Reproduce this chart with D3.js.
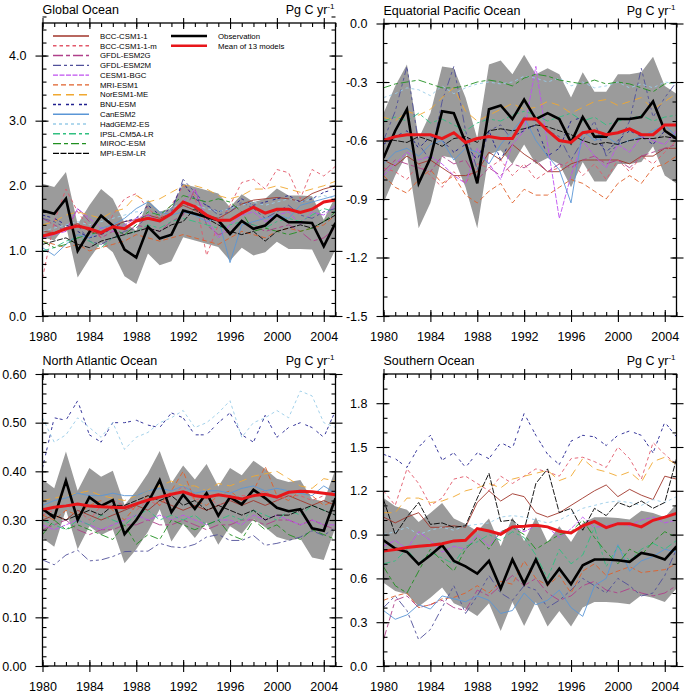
<!DOCTYPE html>
<html><head><meta charset="utf-8">
<script src="https://cdn.jsdelivr.net/npm/d3@7"></script>
<style>body{margin:0;background:#fff}svg{display:block}text{font-family:"Liberation Sans",Arial,Helvetica,sans-serif}</style>
</head><body><svg id="c" width="685" height="693"></svg>
<script>
const years=[1980,1981,1982,1983,1984,1985,1986,1987,1988,1989,1990,1991,1992,1993,1994,1995,1996,1997,1998,1999,2000,2001,2002,2003,2004,2005];
const xTickYears=[1980,1984,1988,1992,1996,2000,2004];
const modelNames=["BCC-CSM1-1","BCC-CSM1-1-m","GFDL-ESM2G","GFDL-ESM2M","CESM1-BGC","MRI-ESM1","NorESM1-ME","BNU-ESM","CanESM2","HadGEM2-ES","IPSL-CM5A-LR","MIROC-ESM","MPI-ESM-LR"];
const modelColors=["#a0352a","#e2586a","#b0408a","#50509a","#c050f0","#e0602a","#f0a830","#202090","#5a96d6","#98cce8","#30c080","#209020","#000000"];
const modelDashes=["none","3.5,3","10,3,4,3","8,3,3,3,3,3","5,1.5","5,3","8,5","3,2,3,5","none","3,3","7,3,3,3","8,3,4,3","6,1.5"];

// ---------- Global Ocean ----------
const globalTicks=[0,1,2,3,4];
const globalObs=[1.62,1.57,1.80,1.00,1.29,1.54,1.39,1.02,0.90,1.37,1.19,1.25,1.62,1.57,1.52,1.47,1.26,1.46,1.34,1.39,1.55,1.44,1.44,1.43,1.07,1.43];
const globalMean=[1.23,1.27,1.34,1.38,1.34,1.28,1.37,1.34,1.46,1.50,1.46,1.57,1.75,1.68,1.55,1.47,1.47,1.58,1.67,1.58,1.64,1.64,1.59,1.64,1.75,1.78];
const globalUpper=[2.03,1.98,2.21,1.41,1.70,1.95,1.80,1.43,1.31,1.78,1.60,1.66,2.03,1.98,1.93,1.88,1.67,1.87,1.75,1.80,1.96,1.85,1.85,1.84,1.48,1.84];
const globalLower=[1.21,1.16,1.39,0.59,0.88,1.13,0.98,0.61,0.49,0.96,0.78,0.84,1.21,1.16,1.11,1.06,0.85,1.05,0.93,0.98,1.14,1.03,1.03,1.02,0.66,1.02];
const globalModels=[
[1.30,1.28,1.35,1.42,1.30,1.25,1.38,1.45,1.48,1.55,1.50,1.58,1.70,1.62,1.55,1.50,1.60,1.72,1.78,1.80,1.82,1.80,1.76,1.88,1.95,2.00],
[0.58,1.45,1.95,1.60,1.35,1.20,1.55,1.80,1.88,1.65,1.50,1.70,2.00,1.85,0.93,1.40,1.70,2.05,2.10,1.95,2.25,2.20,1.80,2.25,2.15,2.30],
[1.50,1.40,1.30,1.65,1.45,1.20,1.30,1.25,1.40,1.35,1.30,1.45,1.55,1.95,1.40,1.25,1.30,1.45,1.40,1.30,1.35,1.40,1.30,1.15,1.20,1.35],
[1.50,1.45,1.35,1.40,1.15,1.10,1.20,1.30,1.35,1.55,1.45,1.60,2.10,1.90,1.70,1.55,1.60,1.75,1.65,1.50,1.60,1.70,1.55,1.50,1.60,1.65],
[1.20,1.25,1.30,1.65,1.50,1.35,1.30,1.40,1.50,1.55,1.45,1.60,1.75,1.95,1.50,1.20,1.40,1.55,1.60,1.45,1.55,1.60,1.40,1.60,1.55,1.70],
[1.15,1.10,1.05,1.10,1.00,1.05,1.10,1.15,1.25,1.20,1.15,1.20,1.25,1.20,1.15,1.10,1.20,1.30,1.25,1.20,1.30,1.35,1.30,1.35,1.40,1.55],
[1.40,1.45,1.55,1.60,1.55,1.50,1.60,1.65,1.85,1.75,1.80,1.90,2.00,2.00,1.95,1.85,1.80,1.85,1.95,1.95,2.00,1.95,1.90,1.95,2.00,2.07],
[1.55,1.50,1.40,1.30,1.20,1.25,1.35,1.45,1.50,1.70,1.55,1.65,2.05,1.80,1.70,1.60,1.65,1.80,1.70,1.75,1.80,1.85,1.75,1.80,1.90,1.95],
[1.05,0.93,1.10,1.25,1.20,1.35,1.40,1.50,1.65,1.75,1.60,1.55,1.60,1.55,1.45,1.50,0.82,1.40,1.45,1.50,1.55,1.50,1.70,1.75,1.80,1.85],
[1.30,1.35,1.40,1.45,1.40,1.45,1.50,1.55,1.60,1.60,1.55,1.65,1.75,1.70,1.65,1.60,1.65,1.70,1.75,1.70,1.75,1.80,1.75,1.80,1.85,1.80],
[1.00,1.05,1.15,1.20,1.15,1.05,1.20,1.25,1.30,1.40,1.35,1.45,1.50,1.45,1.40,1.35,1.40,1.45,1.40,1.35,1.45,1.50,1.45,1.55,1.65,1.60],
[1.15,1.05,1.10,1.20,1.25,1.30,1.35,1.25,1.40,1.60,1.55,1.70,1.85,1.80,1.75,1.80,1.75,1.60,1.30,1.35,1.30,1.25,1.30,1.35,1.45,1.60],
[1.10,1.15,1.20,1.10,1.05,1.15,1.20,1.25,1.30,1.35,1.30,1.40,1.45,1.65,1.50,1.40,1.30,1.25,1.30,1.15,1.30,1.35,1.40,1.35,1.45,1.55]];

// ---------- Equatorial Pacific ----------
const eqTicks=[-1.5,-1.2,-0.9,-0.6,-0.3,0];
const eqObs=[-0.69,-0.55,-0.44,-0.82,-0.69,-0.45,-0.46,-0.61,-0.82,-0.44,-0.42,-0.49,-0.39,-0.49,-0.46,-0.49,-0.61,-0.48,-0.58,-0.58,-0.49,-0.49,-0.48,-0.40,-0.55,-0.59];
const eqMean=[-0.60,-0.58,-0.57,-0.57,-0.57,-0.59,-0.56,-0.61,-0.59,-0.58,-0.59,-0.59,-0.49,-0.49,-0.55,-0.60,-0.61,-0.56,-0.55,-0.57,-0.56,-0.54,-0.57,-0.57,-0.52,-0.52];
const eqUpper=[-0.46,-0.32,-0.21,-0.59,-0.46,-0.22,-0.23,-0.38,-0.59,-0.21,-0.19,-0.26,-0.16,-0.26,-0.23,-0.26,-0.38,-0.25,-0.35,-0.35,-0.26,-0.26,-0.25,-0.17,-0.32,-0.36];
const eqLower=[-0.92,-0.78,-0.67,-1.05,-0.92,-0.68,-0.69,-0.84,-1.05,-0.67,-0.65,-0.72,-0.62,-0.72,-0.69,-0.72,-0.84,-0.71,-0.81,-0.81,-0.72,-0.72,-0.71,-0.63,-0.78,-0.82];
const eqModels=[
[-0.70,-0.73,-0.68,-0.72,-0.70,-0.74,-0.78,-0.78,-0.76,-0.66,-0.70,-0.62,-0.67,-0.71,-0.76,-0.76,-0.72,-0.70,-0.70,-0.70,-0.70,-0.72,-0.68,-0.68,-0.64,-0.64],
[-0.74,-0.76,-0.80,-0.72,-0.78,-0.84,-0.76,-0.82,-0.72,-0.74,-0.70,-0.78,-0.72,-0.80,-0.76,-0.74,-0.70,-0.78,-0.72,-0.80,-0.70,-0.76,-0.68,-0.72,-0.66,-0.60],
[-0.76,-0.70,-0.72,-0.74,-0.76,-0.68,-0.72,-0.70,-0.80,-0.74,-0.78,-0.72,-0.74,-0.70,-0.76,-0.72,-0.74,-0.70,-0.68,-0.72,-0.70,-0.74,-0.68,-0.66,-0.64,-0.62],
[-0.60,-0.45,-0.22,-0.62,-0.70,-0.40,-0.22,-0.55,-0.75,-0.55,-0.52,-0.60,-0.48,-0.50,-0.55,-0.58,-0.70,-0.60,-0.50,-0.68,-0.62,-0.50,-0.23,-0.48,-0.38,-0.30],
[-0.78,-0.72,-0.66,-0.70,-0.68,-0.72,-0.78,-0.82,-0.64,-0.72,-0.80,-0.62,-0.55,-0.22,-0.62,-1.00,-0.78,-0.60,-0.68,-0.74,-0.62,-0.66,-0.58,-0.60,-0.62,-0.55],
[-0.78,-0.84,-0.87,-0.80,-0.75,-0.82,-0.78,-0.88,-0.92,-0.86,-0.82,-0.92,-0.85,-0.88,-0.88,-0.84,-0.80,-0.82,-0.86,-0.90,-0.82,-0.78,-0.82,-0.74,-0.72,-0.68],
[-0.48,-0.50,-0.45,-0.47,-0.44,-0.38,-0.33,-0.45,-0.50,-0.47,-0.44,-0.41,-0.44,-0.43,-0.40,-0.42,-0.46,-0.43,-0.40,-0.39,-0.42,-0.40,-0.38,-0.44,-0.40,-0.36],
[-0.62,-0.58,-0.55,-0.64,-0.58,-0.60,-0.66,-0.62,-0.70,-0.55,-0.70,-0.58,-0.55,-0.52,-0.68,-0.64,-0.50,-0.48,-0.58,-0.66,-0.60,-0.55,-0.58,-0.62,-0.55,-0.60],
[-0.72,-0.66,-0.64,-0.68,-0.62,-0.60,-0.70,-0.64,-0.66,-0.72,-0.62,-0.55,-0.48,-0.60,-0.68,-0.75,-0.92,-0.55,-0.60,-0.58,-0.62,-0.60,-0.58,-0.55,-0.52,-0.58],
[-0.38,-0.36,-0.33,-0.34,-0.37,-0.32,-0.36,-0.33,-0.31,-0.30,-0.31,-0.30,-0.27,-0.28,-0.30,-0.28,-0.32,-0.30,-0.33,-0.32,-0.30,-0.33,-0.31,-0.33,-0.30,-0.31],
[-0.50,-0.48,-0.50,-0.46,-0.51,-0.49,-0.52,-0.55,-0.51,-0.49,-0.50,-0.47,-0.45,-0.47,-0.50,-0.48,-0.46,-0.50,-0.48,-0.52,-0.50,-0.49,-0.47,-0.50,-0.48,-0.47],
[-0.33,-0.31,-0.30,-0.29,-0.31,-0.33,-0.33,-0.32,-0.30,-0.29,-0.30,-0.32,-0.28,-0.26,-0.27,-0.29,-0.30,-0.31,-0.29,-0.31,-0.30,-0.31,-0.33,-0.35,-0.31,-0.30],
[-0.59,-0.60,-0.61,-0.58,-0.60,-0.63,-0.59,-0.58,-0.61,-0.55,-0.54,-0.55,-0.54,-0.52,-0.53,-0.55,-0.57,-0.60,-0.62,-0.61,-0.62,-0.60,-0.59,-0.59,-0.58,-0.59]];

// ---------- North Atlantic ----------
const naTicks=[0,0.1,0.2,0.3,0.4,0.5,0.6];
const naObs=[0.323,0.305,0.381,0.300,0.347,0.329,0.341,0.271,0.300,0.336,0.382,0.316,0.352,0.323,0.355,0.309,0.347,0.332,0.362,0.345,0.325,0.318,0.322,0.283,0.278,0.345];
const naMean=[0.321,0.326,0.329,0.333,0.329,0.327,0.326,0.325,0.333,0.341,0.347,0.353,0.358,0.350,0.347,0.352,0.348,0.343,0.350,0.353,0.347,0.357,0.359,0.358,0.355,0.352];
const naUpper=[0.383,0.365,0.441,0.360,0.407,0.389,0.401,0.331,0.360,0.396,0.442,0.376,0.412,0.383,0.415,0.369,0.407,0.392,0.422,0.405,0.385,0.378,0.382,0.343,0.338,0.405];
const naLower=[0.263,0.245,0.321,0.240,0.287,0.269,0.281,0.211,0.240,0.276,0.322,0.256,0.292,0.263,0.295,0.249,0.287,0.272,0.302,0.285,0.265,0.258,0.262,0.223,0.218,0.285];
const naModels=[
[0.30,0.31,0.30,0.32,0.31,0.30,0.31,0.32,0.33,0.32,0.34,0.33,0.32,0.33,0.32,0.33,0.34,0.33,0.34,0.33,0.34,0.35,0.34,0.33,0.34,0.33],
[0.31,0.32,0.33,0.32,0.30,0.33,0.34,0.33,0.32,0.34,0.33,0.35,0.37,0.34,0.35,0.33,0.34,0.35,0.35,0.36,0.34,0.35,0.35,0.34,0.35,0.36],
[0.28,0.29,0.30,0.28,0.27,0.28,0.28,0.29,0.29,0.30,0.29,0.29,0.30,0.29,0.28,0.29,0.29,0.30,0.30,0.29,0.30,0.30,0.29,0.30,0.29,0.28],
[0.218,0.208,0.228,0.238,0.216,0.218,0.225,0.235,0.236,0.236,0.252,0.245,0.243,0.250,0.265,0.270,0.258,0.258,0.268,0.248,0.252,0.258,0.265,0.278,0.268,0.285],
[0.29,0.28,0.29,0.30,0.29,0.28,0.29,0.30,0.31,0.30,0.31,0.30,0.31,0.30,0.29,0.30,0.30,0.29,0.31,0.30,0.31,0.30,0.29,0.30,0.29,0.29],
[0.31,0.30,0.32,0.31,0.33,0.34,0.32,0.30,0.33,0.35,0.33,0.36,0.40,0.34,0.33,0.35,0.36,0.34,0.36,0.41,0.35,0.34,0.36,0.35,0.33,0.34],
[0.34,0.345,0.35,0.355,0.36,0.35,0.345,0.34,0.35,0.36,0.37,0.38,0.37,0.37,0.36,0.375,0.37,0.38,0.39,0.395,0.40,0.385,0.37,0.365,0.385,0.38],
[0.407,0.51,0.505,0.545,0.475,0.46,0.50,0.50,0.505,0.495,0.49,0.52,0.51,0.475,0.475,0.50,0.52,0.475,0.46,0.515,0.47,0.49,0.50,0.49,0.47,0.525],
[0.33,0.34,0.345,0.355,0.35,0.35,0.355,0.35,0.35,0.36,0.365,0.36,0.37,0.355,0.36,0.36,0.355,0.365,0.37,0.36,0.365,0.36,0.355,0.35,0.37,0.355],
[0.51,0.46,0.475,0.51,0.49,0.47,0.50,0.445,0.47,0.48,0.50,0.51,0.525,0.49,0.50,0.52,0.545,0.47,0.50,0.51,0.525,0.51,0.565,0.555,0.50,0.49],
[0.30,0.29,0.28,0.30,0.29,0.31,0.30,0.29,0.31,0.32,0.30,0.31,0.30,0.31,0.29,0.30,0.31,0.30,0.32,0.31,0.30,0.32,0.31,0.33,0.32,0.31],
[0.27,0.30,0.28,0.29,0.28,0.27,0.26,0.29,0.25,0.27,0.26,0.30,0.29,0.28,0.29,0.30,0.27,0.26,0.30,0.28,0.29,0.27,0.26,0.28,0.27,0.26],
[0.32,0.31,0.30,0.31,0.32,0.31,0.33,0.33,0.34,0.35,0.34,0.35,0.33,0.34,0.32,0.33,0.32,0.31,0.32,0.30,0.31,0.31,0.32,0.33,0.32,0.31]];

// ---------- Southern Ocean ----------
const soTicks=[0,0.3,0.6,0.9,1.2,1.5,1.8];
const soObs=[0.861,0.804,0.781,0.697,0.758,0.827,0.720,0.683,0.633,0.720,0.530,0.729,0.564,0.729,0.560,0.667,0.560,0.690,0.729,0.729,0.724,0.713,0.774,0.758,0.729,0.820];
const soMean=[0.788,0.797,0.811,0.820,0.827,0.838,0.857,0.861,0.941,0.925,0.902,0.953,0.957,0.964,0.953,0.923,0.911,0.960,0.990,0.948,0.975,0.975,0.953,0.998,1.020,1.045];
const soUpper=[1.151,1.094,1.071,0.987,1.048,1.117,1.010,0.973,0.923,1.010,0.820,1.019,0.854,1.019,0.850,0.957,0.850,0.980,1.019,1.019,1.014,1.003,1.064,1.048,1.019,1.110];
const soLower=[0.571,0.514,0.491,0.407,0.468,0.537,0.430,0.393,0.343,0.430,0.240,0.439,0.274,0.439,0.270,0.377,0.270,0.400,0.439,0.439,0.434,0.423,0.484,0.468,0.439,0.530];
const soModels=[
[1.02,0.98,1.02,1.05,0.95,0.95,0.96,0.95,1.12,1.20,1.13,1.18,1.16,1.05,1.02,1.05,1.10,1.15,1.20,1.24,1.16,1.21,1.17,1.14,1.30,1.28],
[1.20,1.10,1.35,1.25,1.10,1.15,1.28,1.30,1.25,1.20,1.30,1.25,1.30,1.35,1.33,1.30,1.42,1.43,1.40,1.36,1.50,1.42,1.28,1.53,1.45,1.38],
[0.18,0.45,0.48,0.40,0.42,0.45,0.40,0.38,0.52,0.48,0.55,0.62,0.55,0.60,0.50,0.45,0.48,0.55,0.58,0.52,0.50,0.53,0.50,0.48,0.50,0.55],
[0.40,0.48,0.38,0.18,0.25,0.40,0.55,0.36,0.48,0.62,0.50,0.45,0.55,0.52,0.40,0.45,0.52,0.60,0.55,0.50,0.60,0.55,0.48,0.50,0.62,0.80],
[0.82,0.86,0.80,0.92,0.86,0.78,0.82,0.80,0.90,0.82,0.92,0.95,0.92,0.96,0.95,0.88,0.94,1.02,0.95,0.96,0.98,0.96,1.00,1.02,0.98,1.00],
[0.45,0.48,0.50,0.40,0.42,0.46,0.47,0.50,0.55,0.50,0.58,0.56,0.72,0.60,0.55,0.62,0.50,0.65,0.70,0.62,0.65,0.68,0.64,0.65,0.66,0.70],
[1.05,1.05,1.15,1.15,1.12,1.13,1.16,1.20,1.22,1.25,1.22,1.28,1.30,1.32,1.34,1.27,1.30,1.42,1.35,1.33,1.30,1.33,1.26,1.40,1.43,1.38],
[1.45,1.42,1.36,1.50,1.58,1.41,1.46,1.36,1.46,1.42,1.53,1.49,1.73,1.58,1.45,1.38,1.54,1.58,1.57,1.51,1.58,1.61,1.58,1.46,1.67,1.57],
[0.38,0.32,0.35,0.42,0.39,0.48,0.46,0.44,0.48,0.45,0.36,0.38,0.50,0.42,0.45,0.52,0.40,0.34,0.55,0.60,0.83,0.65,0.72,0.75,0.80,0.78],
[0.90,0.92,0.95,0.90,0.93,0.95,0.93,0.96,0.97,0.98,1.02,1.03,1.02,1.00,0.98,1.00,1.04,1.08,1.10,1.12,1.13,1.12,1.10,1.14,1.12,1.16],
[0.70,0.72,0.80,0.70,0.78,0.74,0.70,0.82,0.85,0.90,0.86,0.92,0.88,0.76,0.60,0.80,0.70,0.76,0.95,0.68,0.82,0.72,0.80,0.84,0.80,0.86],
[0.68,0.55,0.50,0.65,0.80,0.72,0.65,0.80,0.88,0.80,0.92,0.95,0.90,0.80,0.85,0.90,0.92,1.00,0.88,0.78,0.70,0.80,0.76,0.85,0.92,0.88],
[1.14,0.90,1.02,1.12,0.97,0.98,0.95,0.96,1.15,1.32,0.99,1.00,0.93,1.25,1.35,1.05,1.08,0.93,1.08,1.03,1.12,1.09,1.13,1.08,1.12,1.42]];

const panels=[
 {title:"Global Ocean",x:42.5,y:23,w:293,h:293,domain:[0,4.5],ticks:globalTicks,minor:0.2,dec:1,obs:globalObs,mean:globalMean,up:globalUpper,lo:globalLower,models:globalModels,legend:true},
 {title:"Equatorial Pacific Ocean",x:383.5,y:23.5,w:293,h:292.5,domain:[-1.5,0],ticks:eqTicks,minor:0.1,dec:1,obs:eqObs,mean:eqMean,up:eqUpper,lo:eqLower,models:eqModels},
 {title:"North Atlantic Ocean",x:42.5,y:374,w:293,h:292,domain:[0,0.6],ticks:naTicks,minor:0.02,dec:2,obs:naObs,mean:naMean,up:naUpper,lo:naLower,models:naModels},
 {title:"Southern Ocean",x:383.5,y:374,w:293,h:292,domain:[0,2.0],ticks:soTicks,minor:0.1,dec:1,obs:soObs,mean:soMean,up:soUpper,lo:soLower,models:soModels}
];

const svg=d3.select("#c");
const FS=12.5;
panels.forEach((p,pi)=>{
  const x=d3.scaleLinear().domain([1980,2005]).range([p.x,p.x+p.w]);
  const y=d3.scaleLinear().domain(p.domain).range([p.y+p.h,p.y]);
  const cid="clip"+pi;
  svg.append("clipPath").attr("id",cid).append("rect").attr("x",p.x).attr("y",p.y).attr("width",p.w).attr("height",p.h);
  const g=svg.append("g").attr("clip-path",`url(#${cid})`);
  const area=d3.area().x((d,i)=>x(years[i])).y0((d,i)=>y(p.lo[i])).y1((d,i)=>y(p.up[i]));
  g.append("path").datum(years).attr("d",area).attr("fill","#9b9b9b");
  const line=d3.line().x((d,i)=>x(years[i])).y(d=>y(d));
  p.models.forEach((vals,mi)=>{
    g.append("path").datum(vals).attr("d",line).attr("fill","none")
     .attr("stroke",modelColors[mi]).attr("stroke-width",0.9)
     .attr("stroke-dasharray",modelDashes[mi]==="none"?null:modelDashes[mi]);
  });
  g.append("path").datum(p.obs).attr("d",line).attr("fill","none").attr("stroke","#000").attr("stroke-width",2.6).attr("stroke-linejoin","miter");
  g.append("path").datum(p.mean).attr("d",line).attr("fill","none").attr("stroke","#e8161a").attr("stroke-width",3);

  const [d0,d1]=p.domain;
  const nMin=Math.round((d1-d0)/p.minor);
  const minorY=d3.range(nMin+1).map(k=>+(d0+k*p.minor).toFixed(4));
  const minorX=years;
  const axG=svg.append("g").attr("font-size",FS);
  function ax(gen,tx,ty){
    const a=axG.append("g").attr("transform",`translate(${tx},${ty})`).call(gen);
    a.select(".domain").remove();
    a.selectAll("line").attr("stroke","#000").attr("stroke-width",1.1);
    a.selectAll("text").attr("fill","#000").style("font-family",'"Liberation Sans",Arial,sans-serif').attr("font-size",FS);
    return a;
  }
  ax(d3.axisLeft(y).tickValues(p.ticks).tickSize(7).tickPadding(9).tickFormat(d=>d.toFixed(p.dec)),p.x,0);
  ax(d3.axisLeft(y).tickValues(p.ticks).tickSize(-6).tickFormat(""),p.x,0);
  ax(d3.axisLeft(y).tickValues(minorY).tickSize(-4).tickFormat(""),p.x,0);
  ax(d3.axisRight(y).tickValues(p.ticks).tickSize(7).tickFormat(""),p.x+p.w,0);
  ax(d3.axisRight(y).tickValues(p.ticks).tickSize(-6).tickFormat(""),p.x+p.w,0);
  ax(d3.axisRight(y).tickValues(minorY).tickSize(-4).tickFormat(""),p.x+p.w,0);
  ax(d3.axisBottom(x).tickValues(xTickYears).tickSize(6).tickPadding(10).tickFormat(d3.format("d")),0,p.y+p.h);
  ax(d3.axisBottom(x).tickValues(xTickYears).tickSize(-6).tickFormat(""),0,p.y+p.h);
  ax(d3.axisBottom(x).tickValues(minorX).tickSize(-4).tickFormat(""),0,p.y+p.h);
  ax(d3.axisTop(x).tickValues(xTickYears).tickSize(5).tickFormat(""),0,p.y);
  ax(d3.axisTop(x).tickValues(xTickYears).tickSize(-6).tickFormat(""),0,p.y);
  ax(d3.axisTop(x).tickValues(minorX).tickSize(-4).tickFormat(""),0,p.y);

  svg.append("rect").attr("x",p.x).attr("y",p.y).attr("width",p.w).attr("height",p.h)
     .attr("fill","none").attr("stroke","#000").attr("stroke-width",1.3);

  svg.append("text").attr("x",p.x).attr("y",p.y-9).attr("font-size",FS).attr("fill","#000").text(p.title);
  const u=svg.append("text").attr("x",p.x+p.w-1).attr("y",p.y-9).attr("font-size",FS).attr("fill","#000").attr("text-anchor","end");
  u.append("tspan").text("Pg C yr");
  u.append("tspan").attr("dy",-5).attr("font-size",8).text("-1");

  if(p.legend){
    const lg=svg.append("g");
    const rowH=9.78, y0=36;
    modelNames.forEach((n,mi)=>{
      const yy=y0+mi*rowH;
      lg.append("line").attr("x1",53).attr("x2",89).attr("y1",yy).attr("y2",yy)
        .attr("stroke",modelColors[mi]).attr("stroke-width",1.4)
        .attr("stroke-dasharray",modelDashes[mi]==="none"?null:modelDashes[mi]);
      lg.append("text").attr("x",100).attr("y",yy).attr("dy","0.35em").attr("font-size",7.8).attr("fill","#000").text(n);
    });
    const extra=[["Observation","#000"],["Mean of 13 models","#e8161a"]];
    extra.forEach((e,k)=>{
      const yy=y0+k*rowH;
      lg.append("line").attr("x1",171).attr("x2",207).attr("y1",yy).attr("y2",yy).attr("stroke",e[1]).attr("stroke-width",2.4);
      lg.append("text").attr("x",218).attr("y",yy).attr("dy","0.35em").attr("font-size",7.8).attr("fill","#000").text(e[0]);
    });
  }
});
</script></body></html>
